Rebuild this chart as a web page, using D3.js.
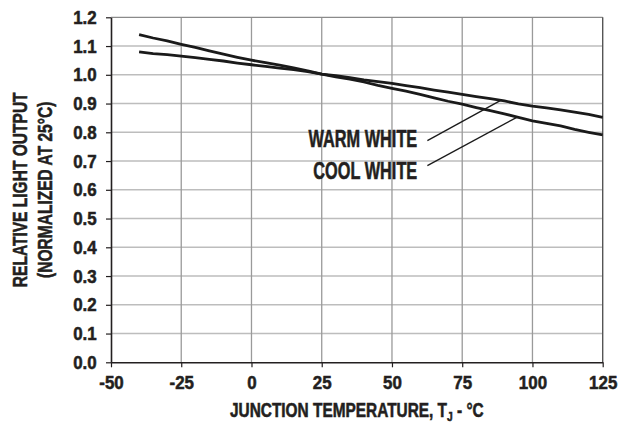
<!DOCTYPE html>
<html>
<head>
<meta charset="utf-8">
<script src="https://cdn.jsdelivr.net/npm/d3@7"></script>
<style>
  body { margin: 0; background: #fff; }
  text { font-family: "Liberation Sans", Arial, sans-serif; font-weight: bold; fill: #231f20; stroke: #231f20; stroke-width: 0.55px; }
</style>
</head>
<body>
<div id="chart"></div>
<script>
// junction temperature, degC
const temps = [-40, -35, -30, -25, -20, -15, -10, -5, 0, 5, 10, 15, 20, 25, 30, 35, 40, 45, 50, 55, 60,
  65, 70, 75, 80, 85, 90, 95, 100, 105, 110, 115, 120, 125];

// relative light output
const coolWhite = [1.140, 1.128, 1.118, 1.106, 1.095, 1.083, 1.072, 1.061, 1.051, 1.042, 1.034, 1.024, 1.014, 1.002,
  0.993, 0.985, 0.975, 0.963, 0.953, 0.943, 0.932, 0.920, 0.908, 0.898, 0.886, 0.875, 0.864, 0.852, 0.840,
  0.831, 0.822, 0.810, 0.800, 0.791];
const warmWhite = [1.080, 1.074, 1.070, 1.065, 1.060, 1.054, 1.048, 1.041, 1.035, 1.029, 1.023, 1.018, 1.011, 1.002,
  0.997, 0.990, 0.982, 0.976, 0.970, 0.962, 0.955, 0.947, 0.940, 0.932, 0.924, 0.917, 0.909, 0.899, 0.891,
  0.885, 0.878, 0.870, 0.862, 0.852];

const xTicks = [-50, -25, 0, 25, 50, 75, 100, 125];
const yTicks = [0.0, 0.1, 0.2, 0.3, 0.4, 0.5, 0.6, 0.7, 0.8, 0.9, 1.0, 1.1, 1.2];

// callouts: label position and where the leader touches the curve (data units)
const labels = ["WARM WHITE", "COOL WHITE"];
const labelAt = [[59, 0.750], [59, 0.637]];
const leaderFrom = [[62.6, 0.771], [62.6, 0.684]];
const leaderTo = [88.7, 94.6];

const margin = { top: 17.3, right: 16.3, bottom: 62.7, left: 111 };
const W = 619, H = 425;
const width = W - margin.left - margin.right;
const height = H - margin.top - margin.bottom;

const x = d3.scaleLinear().domain([-50, 125]).range([0, width]);
const y = d3.scaleLinear().domain([0, 1.2]).range([height, 0]);

const svg = d3.select("#chart").append("svg")
  .attr("width", W).attr("height", H);

const g = svg.append("g")
  .attr("transform", "translate(" + margin.left + "," + margin.top + ")");

// squeeze text horizontally so it looks like a condensed face
function condense(sel, s, rot) {
  sel.each(function () {
    const t = d3.select(this);
    const px = +t.attr("x") || 0, py = +t.attr("y") || 0;
    t.attr("x", 0).attr("y", 0)
      .attr("transform", "translate(" + px + "," + py + ")" + (rot ? " rotate(" + rot + ")" : "") + " scale(" + s + ",1)");
  });
}

// grid
g.append("g").selectAll("line").data(yTicks.slice(1, -1)).enter().append("line")
  .attr("x1", 0).attr("x2", width)
  .attr("y1", d => y(d)).attr("y2", d => y(d))
  .attr("stroke", "#bdbdbd").attr("stroke-width", 1.4);

g.append("g").selectAll("line").data(xTicks.slice(1, -1)).enter().append("line")
  .attr("y1", 0).attr("y2", height)
  .attr("x1", d => x(d)).attr("x2", d => x(d))
  .attr("stroke", "#9a9a9a").attr("stroke-width", 1.3);

// frame top / right
g.append("line").attr("x1", 0).attr("x2", width).attr("y1", y(1.2)).attr("y2", y(1.2))
  .attr("stroke", "#8a8a8a").attr("stroke-width", 1.3);
g.append("line").attr("x1", width).attr("x2", width).attr("y1", 0).attr("y2", height)
  .attr("stroke", "#555").attr("stroke-width", 1.4);

// axes
const yAxis = g.append("g")
  .call(d3.axisLeft(y).tickValues(yTicks).tickFormat(d3.format(".1f")).tickSizeInner(5).tickSizeOuter(0).tickPadding(9.3));
const xAxis = g.append("g")
  .attr("transform", "translate(0," + height + ")")
  .call(d3.axisBottom(x).tickValues(xTicks).tickFormat(d => String(d)).tickSizeInner(5).tickSizeOuter(0).tickPadding(8.8));

[yAxis, xAxis].forEach(a => {
  a.attr("font-family", null);
  a.select(".domain").attr("stroke", "#231f20").attr("stroke-width", 1.6);
  a.selectAll(".tick line").attr("stroke", "#231f20").attr("stroke-width", 1.2);
  a.selectAll("text").style("font-size", "18.8px").attr("fill", "#231f20");
});
condense(yAxis.selectAll(".tick text"), 0.9);
condense(xAxis.selectAll(".tick text"), 0.9);

// curves
const line = d3.line().x((d, i) => x(temps[i])).y(d => y(d));
[coolWhite, warmWhite].forEach(s => {
  g.append("path").datum(s)
    .attr("fill", "none").attr("stroke", "#1a1a1a")
    .attr("stroke-width", 2.8).attr("stroke-linejoin", "round")
    .attr("d", line);
});

// callouts
const interp = (arr, t) => {
  const i = d3.bisectRight(temps, t) - 1;
  const f = (t - temps[i]) / (temps[i + 1] - temps[i]);
  return arr[i] + f * (arr[i + 1] - arr[i]);
};
const series = [warmWhite, coolWhite];
labels.forEach((lab, i) => {
  const t = g.append("text")
    .attr("x", x(labelAt[i][0])).attr("y", y(labelAt[i][1]))
    .attr("text-anchor", "end")
    .style("font-size", "23px")
    .text(lab);
  condense(t, 0.71);
  g.append("line")
    .attr("x1", x(leaderFrom[i][0])).attr("y1", y(leaderFrom[i][1]))
    .attr("x2", x(leaderTo[i])).attr("y2", y(interp(series[i], leaderTo[i])))
    .attr("stroke", "#1a1a1a").attr("stroke-width", 1.3);
});

// axis titles
const xt = g.append("text")
  .attr("x", width / 2).attr("y", height + 54.7)
  .attr("text-anchor", "middle")
  .style("font-size", "19.5px");
xt.append("tspan").text("JUNCTION TEMPERATURE, T");
xt.append("tspan").attr("dy", 4).style("font-size", "13px").text("J");
xt.append("tspan").attr("dy", -4).text(" - °C");
condense(xt, 0.79);

const yt = svg.append("text")
  .attr("x", 26.7).attr("y", margin.top + height / 2)
  .attr("text-anchor", "middle")
  .style("font-size", "21px");
yt.append("tspan").attr("x", 0).attr("dy", 0).text("RELATIVE LIGHT OUTPUT");
yt.append("tspan").attr("x", 0).attr("dy", 25).text("(NORMALIZED AT 25°C)");
condense(yt, 0.74, -90);
</script>
</body>
</html>
